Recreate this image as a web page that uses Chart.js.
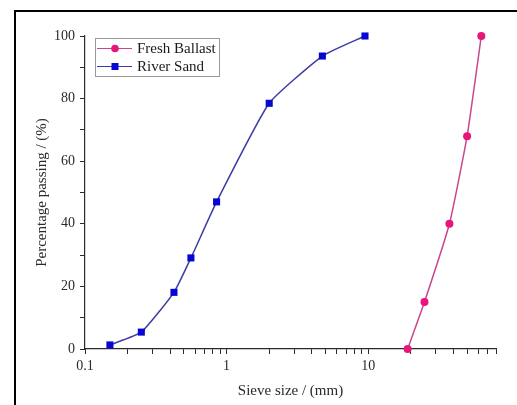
<!DOCTYPE html>
<html>
<head>
<meta charset="utf-8">
<script src="https://cdn.jsdelivr.net/npm/chart.js@4"></script>
<style>
  html, body { margin: 0; padding: 0; background: #fff; overflow: hidden; }
  #wrap { width: 517px; height: 405px; position: relative; }
</style>
</head>
<body>
<div id="wrap"><canvas id="gradingChart"></canvas></div>
<script>
// grading curves
const sandSize = [0.15, 0.25, 0.425, 0.56, 0.85, 2, 4.75, 9.5];
const sandPassing = [1.3, 5.4, 18.1, 29.1, 47, 78.5, 93.6, 100];
const ballastSize = [19, 25, 37.5, 50, 63];
const ballastPassing = [0, 15, 40, 68, 100];

const xTicks = [0.1, 0.2, 0.3, 0.4, 0.5, 0.6, 0.7, 0.8, 0.9,
                1, 2, 3, 4, 5, 6, 7, 8, 9,
                10, 20, 30, 40, 50, 60, 70, 80];
const xLabels = [0.1, 1, 10];
const yLabels = [0, 20, 40, 60, 80, 100];

const serif = "'Liberation Serif', 'DejaVu Serif', serif";
const ink = "#2a2a2a";

function toPoints(xs, ys) {
    return xs.map((x, i) => ({ x: x, y: ys[i] }));
}

// black frame around the figure (cut off at right/bottom like the source)
const framePlugin = {
    id: "frame",
    beforeDraw(chart) {
        const c = chart.ctx;
        c.save();
        c.fillStyle = "#fff";
        c.fillRect(0, 0, chart.width, chart.height);
        c.strokeStyle = "#000";
        c.lineWidth = 2;
        c.strokeRect(15, 11, chart.width + 20, chart.height + 20);
        c.restore();
    }
};

// legend box with line + marker samples, drawn from the datasets
const legendPlugin = {
    id: "boxLegend",
    afterDraw(chart) {
        const c = chart.ctx;
        const x0 = 95, y0 = 38, w = 124, h = 38;
        c.save();
        c.strokeStyle = "#999";
        c.lineWidth = 1;
        c.strokeRect(x0 + 0.5, y0 + 0.5, w, h);
        c.font = "15px " + serif;
        c.textBaseline = "middle";
        chart.data.datasets.forEach((ds, i) => {
            const y = y0 + 10 + i * 18;
            c.strokeStyle = ds.borderColor;
            c.lineWidth = 1.2;
            c.beginPath();
            c.moveTo(x0 + 2, y + 0.5);
            c.lineTo(x0 + 37, y + 0.5);
            c.stroke();
            c.fillStyle = ds.pointBackgroundColor;
            if (ds.pointStyle === "rect") {
                c.fillRect(x0 + 20 - 3.5, y - 3, 7, 7);
            } else {
                c.beginPath();
                c.arc(x0 + 20, y + 0.5, 3.8, 0, Math.PI * 2);
                c.fill();
            }
            c.fillStyle = "#1a1a1a";
            c.fillText(ds.label, x0 + 42, y + 1);
        });
        c.restore();
    }
};

const ctx = document.getElementById("gradingChart").getContext("2d");
const chart = new Chart(ctx, {
    type: "line",
    data: {
        datasets: [{
            label: "Fresh Ballast",
            data: toPoints(ballastSize, ballastPassing),
            borderColor: "#c8488d",
            borderWidth: 1.5,
            pointStyle: "circle",
            pointRadius: 4,
            pointBackgroundColor: "#e8157a",
            pointBorderWidth: 0,
            tension: 0.15,
            clip: false
        }, {
            label: "River Sand",
            data: toPoints(sandSize, sandPassing),
            borderColor: "#3c3ca4",
            borderWidth: 1.5,
            pointStyle: "rect",
            pointRadius: 5,
            pointBackgroundColor: "#0606d0",
            pointBorderWidth: 0,
            tension: 0.15,
            clip: false
        }]
    },
    options: {
        responsive: true,
        maintainAspectRatio: false,
        animation: false,
        layout: { padding: { left: 0, top: 36, right: 21, bottom: 0 } },
        plugins: {
            legend: { display: false },
            tooltip: { enabled: false }
        },
        scales: {
            x: {
                type: "logarithmic",
                min: 0.1,
                max: 80,
                afterBuildTicks: (scale) => {
                    scale.ticks = xTicks.map(v => ({ value: v }));
                },
                afterFit: (scale) => { scale.height = 56; },
                ticks: {
                    color: ink,
                    font: { family: serif, size: 14 },
                    padding: 4,
                    maxRotation: 0,
                    autoSkip: false,
                    callback: (value) => xLabels.includes(value) ? String(value) : ""
                },
                grid: {
                    drawOnChartArea: false,
                    tickLength: 5,
                    tickColor: ink
                },
                border: { color: ink, width: 1.2 },
                title: {
                    display: true,
                    text: "Sieve size / (mm)",
                    color: ink,
                    font: { family: serif, size: 15 },
                    padding: { top: 0, bottom: 5 }
                }
            },
            y: {
                min: 0,
                max: 100,
                afterFit: (scale) => { scale.width = 85; },
                ticks: {
                    stepSize: 10,
                    color: ink,
                    font: { family: serif, size: 14 },
                    padding: 5,
                    callback: (value) => yLabels.includes(value) ? String(value) : ""
                },
                grid: {
                    drawOnChartArea: false,
                    tickLength: 5,
                    tickColor: ink
                },
                border: { color: ink, width: 1.2 },
                title: {
                    display: true,
                    text: "Percentage passing / (%)",
                    color: ink,
                    font: { family: serif, size: 15 },
                    padding: { top: 33, bottom: 0 }
                }
            }
        }
    },
    plugins: [framePlugin, legendPlugin]
});
</script>
</body>
</html>
